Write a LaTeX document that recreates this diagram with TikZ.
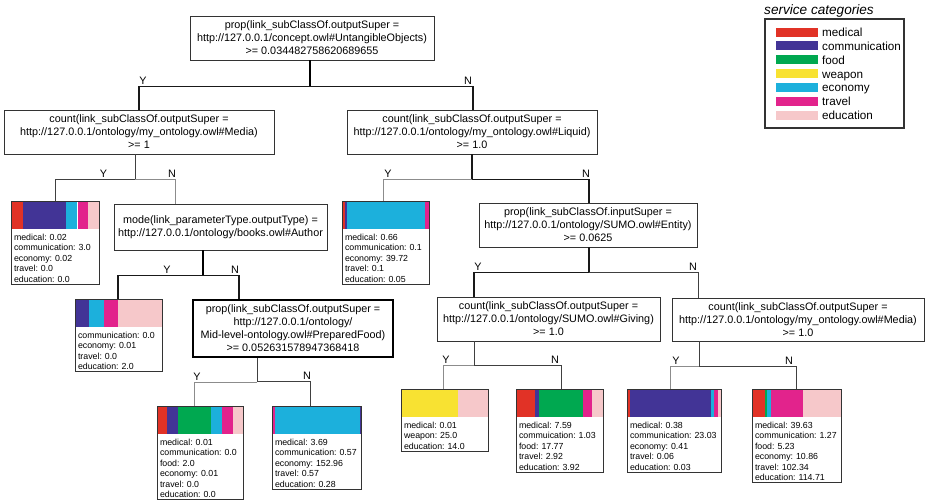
\documentclass[tikz,border=0pt]{standalone}
\usepackage{fontspec}
\setmainfont{Liberation Sans}
\usepackage{xcolor}
\usetikzlibrary{calc}
\definecolor{medcol}{RGB}{225,50,38}
\definecolor{comcol}{RGB}{66,52,150}
\definecolor{foodcol}{RGB}{0,168,80}
\definecolor{weapcol}{RGB}{248,226,50}
\definecolor{econcol}{RGB}{28,176,220}
\definecolor{travcol}{RGB}{226,35,140}
\definecolor{educol}{RGB}{246,200,202}

% colour strip on top of a leaf, then its frame
\newcommand{\leafbar}[2]{%
  \foreach \c/\a/\b in {#2}
    \fill[\c] ([xshift=\a pt]#1.north west) rectangle ([xshift=\b pt, yshift=-28pt]#1.north west);
  \draw[leafline] (#1.north west) rectangle (#1.south east);}

\begin{document}
\frenchspacing
\begin{tikzpicture}[x=1pt, y=-1pt,
    split/.style 2 args={draw=black!80, line width=0.8pt, align=center, inner sep=0pt,
      font=\fontsize{10.8}{13}\selectfont, minimum width=#1, minimum height=#2},
    leaf/.style={text width=#1, inner xsep=2pt, inner ysep=1.5pt, anchor=north, align=left,
      font=\fontsize{8.8}{10.5}\selectfont, execute at begin node={\noindent\rule{0pt}{37.5pt}}},
    leafline/.style={draw=black!80, line width=0.8pt},
    lbl/.style={above, inner sep=1.5pt, font=\fontsize{10.8}{13}\selectfont},
    thinedge/.style={draw=black!45, line width=0.6pt},
    midedge/.style={draw=black!75, line width=0.9pt},
    thickedge/.style={draw=black!90, line width=1.4pt},
    heavyedge/.style={draw=black, line width=2.2pt}]
    \useasboundingbox (0,0) rectangle (927,503);
    % Split nodes
    \node[split={244pt}{44pt}] (root) at (312,38)
      {prop(link\_subClassOf.outputSuper =\\http://127.0.0.1/concept.owl\#UntangibleObjects)\\>= 0.034482758620689655};
    \node[split={270pt}{44pt}] (media) at (139,132)
      {count(link\_subClassOf.outputSuper =\\http://127.0.0.1/ontology/my\_ontology.owl\#Media)\\>= 1};
    \node[split={250pt}{44pt}] (liquid) at (472,132)
      {count(link\_subClassOf.outputSuper =\\http://127.0.0.1/ontology/my\_ontology.owl\#Liquid)\\>= 1.0};
    \node[split={213pt}{46pt}] (mode) at (220.5,227)
      {mode(link\_parameterType.outputType) =\\http://127.0.0.1/ontology/books.owl\#Author};
    \node[split={200pt}{57pt}, line width=1.6pt, draw=black] (pf) at (293,328.5)
      {prop(link\_subClassOf.outputSuper =\\http://127.0.0.1/ontology/\\Mid-level-ontology.owl\#PreparedFood)\\>= 0.052631578947368418};
    \node[split={218pt}{44pt}] (entity) at (588,225)
      {prop(link\_subClassOf.inputSuper =\\http://127.0.0.1/ontology/SUMO.owl\#Entity)\\>= 0.0625};
    \node[split={223pt}{44pt}] (giving) at (548.5,319)
      {count(link\_subClassOf.outputSuper =\\http://127.0.0.1/ontology/SUMO.owl\#Giving)\\>= 1.0};
    \node[split={252pt}{43pt}] (media2) at (798,319.5)
      {count(link\_subClassOf.outputSuper =\\http://127.0.0.1/ontology/my\_ontology.owl\#Media)\\>= 1.0};
    % Leaves
    \node[leaf=83pt] (leafA) at (55.5,201)
      {medical: 0.02\\communication: 3.0\\economy: 0.02\\travel: 0.0\\education: 0.0};
    \node[leaf=82pt] (leafB) at (119,299)
      {communication: 0.0\\economy: 0.01\\travel: 0.0\\education: 2.0};
    \node[leaf=82pt] (leafC) at (386,201)
      {medical: 0.66\\communication: 0.1\\economy: 39.72\\travel: 0.1\\education: 0.05};
    \node[leaf=81pt] (leafD) at (200.5,406)
      {medical: 0.01\\communication: 0.0\\food: 2.0\\economy: 0.01\\travel: 0.0\\education: 0.0};
    \node[leaf=84pt] (leafE) at (317,406)
      {medical: 3.69\\communication: 0.57\\economy: 152.96\\travel: 0.57\\education: 0.28};
    \node[leaf=82pt] (leafF) at (445,389)
      {medical: 0.01\\weapon: 25.0\\education: 14.0};
    \node[leaf=82pt] (leafG) at (560,389)
      {medical: 7.59\\commuication: 1.03\\food: 17.77\\travel: 2.92\\education: 3.92};
    \node[leaf=89pt] (leafH) at (674.5,389)
      {medical: 0.38\\communication: 23.03\\economy: 0.41\\travel: 0.06\\education: 0.03};
    \node[leaf=84pt] (leafI) at (797,389)
      {medical: 39.63\\communication: 1.27\\food: 5.23\\economy: 10.86\\travel: 102.34\\education: 114.71};
    \leafbar{leafA}{medcol/0/11, comcol/11/54, econcol/54/65, travcol/66/76, educol/76/87}
    \leafbar{leafB}{comcol/0/13, econcol/13/28, travcol/28/42, educol/42/86}
    \leafbar{leafC}{medcol/0/2, comcol/2/4, econcol/4/82, travcol/82/86}
    \leafbar{leafD}{medcol/0/9, comcol/9/20, foodcol/20/53, econcol/53/64, travcol/64/75, educol/75/85}
    \leafbar{leafE}{travcol/0/2, econcol/2/87, comcol/87/88}
    \leafbar{leafF}{weapcol/0/56, educol/56/86}
    \leafbar{leafG}{medcol/0/18, comcol/18/22, foodcol/22/66, travcol/66/75, educol/75/86}
    \leafbar{leafH}{medcol/0/2, comcol/2/83, econcol/83/86, travcol/86/90, educol/90/93}
    \leafbar{leafI}{medcol/0/12, foodcol/12/14, econcol/14/18, travcol/18/50, educol/50/88}
    % Branches
    \draw[heavyedge] ([xshift=-2pt]root.south) -- ++(0,26) coordinate (rootfork);
    \draw[thickedge] (rootfork) -| node[lbl, pos=0.5, xshift=4pt] {Y} (media.north);
    \draw[thickedge] (rootfork) -| node[lbl, pos=0.5, xshift=-5pt] {N} ([xshift=1pt]liquid.north);
    \draw[midedge] ([xshift=-4pt]media.south) -- ++(0,25) coordinate (mediafork);
    \draw[midedge] (mediafork) -| node[lbl, pos=0.5, xshift=48pt] {Y} (leafA.north);
    \draw[thinedge] (mediafork) -| node[lbl, pos=0.5, xshift=-3pt] {N} ([xshift=-45.5pt]mode.north);
    \draw[heavyedge] ([xshift=-17.5pt]mode.south) -- ++(0,25) coordinate (modefork);
    \draw[thickedge] (modefork) -| node[lbl, pos=0.5, xshift=49pt] {Y} ([xshift=-1pt]leafB.north);
    \draw[thickedge] (modefork) -| node[lbl, pos=0.5, xshift=-4pt] {N} ([xshift=-54pt]pf.north);
    \draw[midedge] ([xshift=-36pt]pf.south) -- ++(0,24) coordinate (pffork);
    \draw[thinedge] (pffork) -| node[lbl, pos=0.5, xshift=3pt] {Y} ([xshift=-6.5pt]leafD.north);
    \draw[midedge] (pffork) -| node[lbl, pos=0.5, xshift=-3pt] {N} ([xshift=-7pt]leafE.north);
    \draw[thickedge] (liquid.south) -- ++(0,25) coordinate (liquidfork);
    \draw[thinedge] (liquidfork) -| node[lbl, pos=0.5, xshift=5pt] {Y} ([xshift=-3pt]leafC.north);
    \draw[thickedge] (liquidfork) -| node[lbl, pos=0.5, xshift=-3pt] {N} ([xshift=1pt]entity.north);
    \draw[thickedge] ([xshift=1pt]entity.south) -- ++(0,25) coordinate (entityfork);
    \draw[thickedge] (entityfork) -| node[lbl, pos=0.5, xshift=4pt] {Y} ([xshift=-74.5pt]giving.north);
    \draw[midedge] (entityfork) -| node[lbl, pos=0.5, xshift=-5pt] {N} ([xshift=-100pt]media2.north);
    \draw[midedge] ([xshift=-74.5pt]giving.south) -- ++(0,24) coordinate (givingfork);
    \draw[thinedge] (givingfork) -| node[lbl, pos=0.5, xshift=3pt] {Y} ([xshift=-2pt]leafF.north);
    \draw[midedge] (givingfork) -| node[lbl, pos=0.5, xshift=-6pt] {N} ([xshift=1pt]leafG.north);
    \draw[midedge] ([xshift=-99pt]media2.south) -- ++(0,25) coordinate (media2fork);
    \draw[thinedge] (media2fork) -| node[lbl, pos=0.5, xshift=6pt] {Y} ([xshift=-4.5pt]leafH.north);
    \draw[midedge] (media2fork) -| node[lbl, pos=0.5, xshift=-7pt] {N} ([xshift=-1pt]leafI.north);
    % Legend
    \node[anchor=west, inner sep=0pt, font=\fontsize{13.6}{16}\selectfont\itshape] (legtitle) at (764,11) {service categories};
    \draw[draw=black!80, line width=1.1pt] (765,19) rectangle (904,128);
    \foreach \cat/\col [count=\i] in {medical/medcol, communication/comcol, food/foodcol, weapon/weapcol,
        economy/econcol, travel/travcol, education/educol} {
      \fill[\col] (776,{18.2+13.9*\i-4.5}) rectangle (818,{18.2+13.9*\i+4.5});
      \node[anchor=base west, inner sep=0pt, font=\fontsize{11.7}{14}\selectfont] (leg\i) at (822,{18.2+13.9*\i+4.2}) {\cat};
    }
\end{tikzpicture}
\end{document}
